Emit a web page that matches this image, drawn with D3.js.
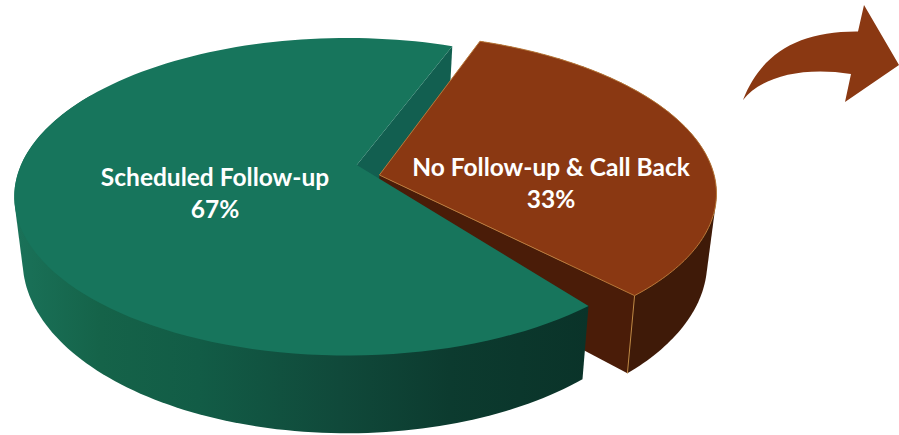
<!DOCTYPE html>
<html>
<head>
<meta charset="utf-8">
<script src="https://cdn.jsdelivr.net/npm/d3@7/dist/d3.min.js"></script>
<style>
html,body{margin:0;padding:0;background:#fff;}
svg{display:block;}
text{font-family:Lato,"Open Sans",sans-serif;font-weight:700;fill:#fff;}
</style>
</head>
<body>
<svg id="chart" width="899" height="435"></svg>
<script>
// Shares of patients by discharge outcome
const categories = ["Scheduled Follow-up", "No Follow-up & Call Back"];
const shares = [67, 33];
const percentLabels = ["67%", "33%"];

const width = 899, height = 435;
const svg = d3.select("#chart");

// Tilted disc: unit-circle coordinates are mapped to the screen with a
// perspective divide, so the near edge of the pie reads larger than the far edge.
const tilt = 0.2;
const xScale = d3.scaleLinear().domain([0, 1]).range([347, 673]);
const yScale = d3.scaleLinear().domain([0, 1]).range([165, 317.4]);
const lowerScaleX = 0.975, lowerScaleY = 1.09;

// depth > 0 returns the matching point on the underside of the disc
function project(u, v, depth) {
  const w = 1 / (1 - tilt * v);
  let x = xScale(u * w), y = yScale(v * w);
  if (depth) {
    x = xScale(0) + (x - xScale(0)) * lowerScaleX;
    y = yScale(0) + (y - yScale(0)) * lowerScaleY + depth;
  }
  return [x, y];
}

// The green slice runs clockwise from the brown wedge's near edge,
// which leaves the brown wedge at the upper right.
const pie = d3.pie().sort(null).value(d => d);
const startOffset = (22.5 + 118.8) * Math.PI / 180;
const arcs = pie.startAngle(startOffset).endAngle(startOffset + 2 * Math.PI)(shares);

function ring(startAngle, endAngle, centre, depth) {
  const n = 120;
  const angle = d3.scaleLinear().domain([0, n]).range([startAngle, endAngle]);
  return d3.range(n + 1).map(i => {
    const a = angle(i);
    return project(centre[0] + Math.sin(a), centre[1] - Math.cos(a), depth);
  });
}

const line = d3.line();
const closed = pts => line(pts) + "Z";

const defs = svg.append("defs");
const sideFill = defs.append("linearGradient").attr("id", "greenSide")
  .attr("gradientUnits", "userSpaceOnUse")
  .attr("x1", 14).attr("x2", 600).attr("y1", 0).attr("y2", 0);
[[0, "#1a7259"], [0.147, "#156349"], [0.317, "#125c46"], [0.556, "#10493a"], [0.744, "#0c3b2f"], [0.983, "#0a3329"]]
  .forEach(s => sideFill.append("stop").attr("offset", s[0]).attr("stop-color", s[1]));

const greenArc = arcs[0], brownArc = arcs[1];
const greenCentre = [0, 0], greenApex = [0.03, 0];
const brownCentre = [0.117, -0.04], brownApex = [0.098, 0.065];
const brownTurn = -0.8 * Math.PI / 180;   // the pulled-out wedge sits slightly rotated
const greenDepth = 60.6, brownDepth = 66;

const greenTop = ring(greenArc.startAngle, greenArc.endAngle, greenCentre, 0);
const greenApexTop = project(greenApex[0], greenApex[1], 0);
const greenApexLow = project(greenApex[0], greenApex[1], greenDepth);
const brownTop = ring(brownArc.startAngle + brownTurn, brownArc.endAngle + brownTurn, brownCentre, 0);
const brownLow = ring(brownArc.startAngle + brownTurn, brownArc.endAngle + brownTurn, brownCentre, brownDepth);
const brownApexTop = project(brownApex[0], brownApex[1], 0);
const brownApexLow = project(brownApex[0], brownApex[1], brownDepth);

// Rim of the green slice covers only the side of the disc facing the viewer;
// its convex hull supplies the straight tangent between the two discs on the left
const rimEnd = 300 * Math.PI / 180;
const greenRimTop = ring(greenArc.startAngle, rimEnd, greenCentre, 0);
const greenRimLow = ring(greenArc.startAngle, rimEnd, greenCentre, greenDepth);
const greenEdge = greenTop[greenTop.length - 1];
const greenEdgeLow = project(Math.sin(greenArc.endAngle), -Math.cos(greenArc.endAngle), greenDepth);

// Cut face of the green slice, seen through the gap left by the pulled-out wedge
svg.append("path")
  .attr("d", closed([greenApexTop, greenEdge, greenEdgeLow, greenApexLow]))
  .attr("fill", "#125f50");

// Brown wedge: outer rim first, then the cut face in front of it
const brownCorner = brownTop[brownTop.length - 1];
const brownCornerLow = brownLow[brownLow.length - 1];
svg.append("path")
  .attr("d", closed(d3.polygonHull(brownTop.concat(brownLow))))
  .attr("fill", "#3f1a08");
svg.append("path")
  .attr("d", closed([brownApexTop, brownCorner, brownCornerLow, brownApexLow]))
  .attr("fill", "#4a1c08");
svg.append("line")
  .attr("x1", brownCorner[0]).attr("y1", brownCorner[1])
  .attr("x2", brownCornerLow[0]).attr("y2", brownCornerLow[1])
  .attr("stroke", "#c08a45").attr("stroke-width", 1);

// Green rim and face
svg.append("path")
  .attr("d", closed(d3.polygonHull(greenRimTop.concat(greenRimLow))))
  .attr("fill", "url(#greenSide)");
svg.append("path")
  .attr("d", closed([greenApexTop].concat(greenTop)))
  .attr("fill", "#17755c");

// Brown face with its thin light outline
svg.append("path")
  .attr("d", closed([brownApexTop].concat(brownTop)))
  .attr("fill", "#8a3812")
  .attr("stroke", "#b9793a").attr("stroke-width", 1);

// Call-out arrow at the upper right
svg.append("path")
  .attr("d", "M743,100 C762,52 800,31 858,31.5 L864,5 L899,65 L845,102 L851,74 C800,66 760,78 743,100 Z")
  .attr("fill", "#8a3812");

// Slice labels
const labelAnchors = [[215, 186], [551, 176]];
const labels = svg.selectAll("g.label").data(categories).join("g").attr("class", "label")
  .attr("transform", (d, i) => `translate(${labelAnchors[i][0]},${labelAnchors[i][1]})`);
labels.append("text").attr("text-anchor", "middle").attr("font-size", 24.5).text(d => d);
labels.append("text").attr("text-anchor", "middle").attr("font-size", 24.5).attr("y", 32)
  .text((d, i) => percentLabels[i]);
</script>
</body>
</html>
